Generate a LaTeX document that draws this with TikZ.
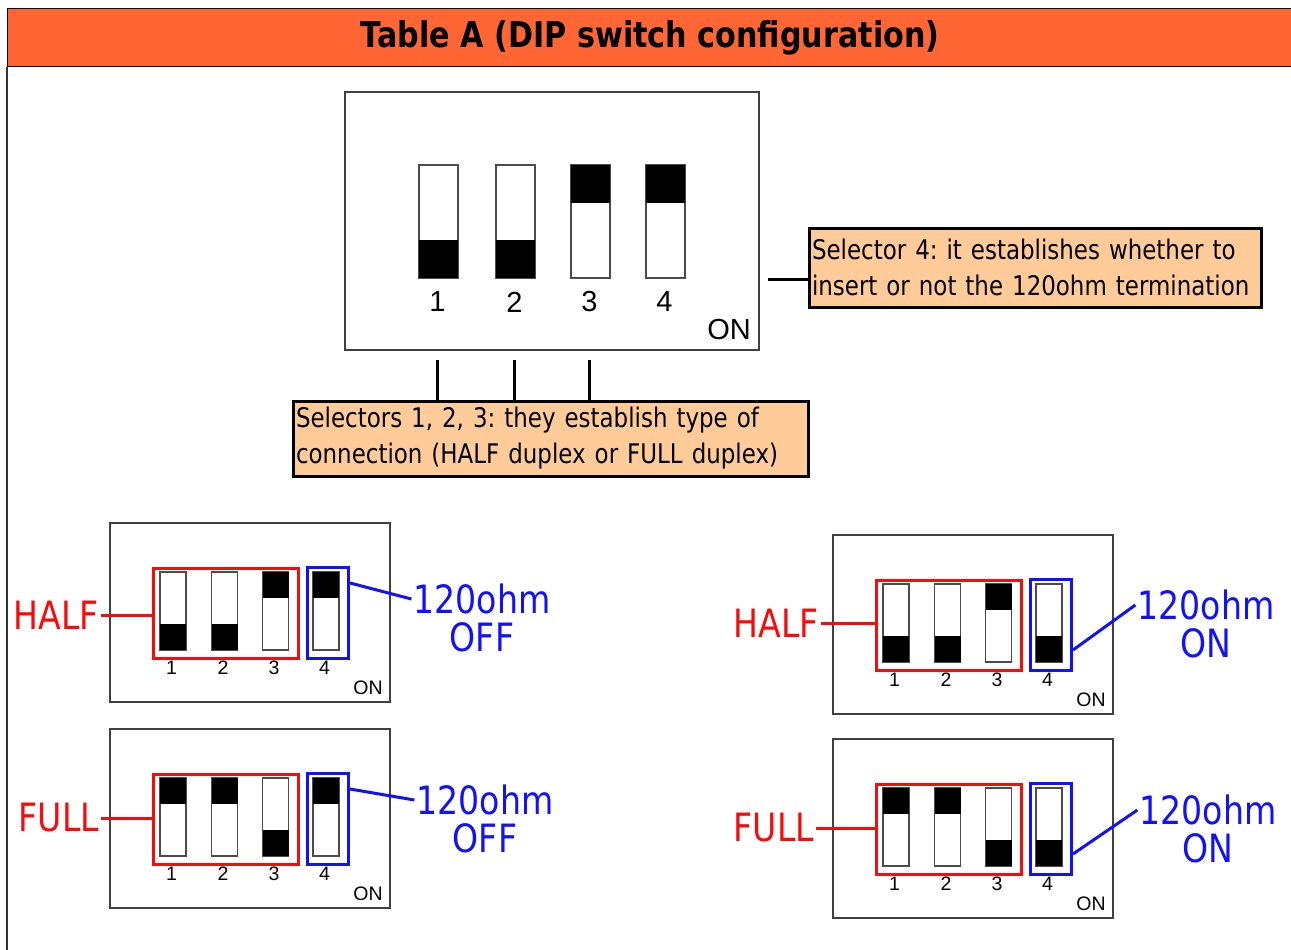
\documentclass[tikz,border=0pt]{standalone}
\usepackage{fontspec}
\setmainfont{DejaVu Sans}[FakeStretch=0.85]
\newfontfamily\keyfont{Liberation Sans}
\usetikzlibrary{positioning}
\definecolor{hdrorange}{RGB}{255,102,51}
\definecolor{notepeach}{RGB}{255,204,153}
\definecolor{selred}{RGB}{245,12,12}
\definecolor{termblue}{RGB}{18,18,250}
\frenchspacing
\hyphenpenalty=10000

\tikzset{
  header/.style={draw=black, line width=1.2pt, fill=hdrorange, inner sep=0pt,
    font=\bfseries\fontsize{35.5}{36}\selectfont},
  frame/.style={draw=black!80, line width=1.2pt},
  panelbox/.style={draw=black!75, line width=1.5pt, fill=white, inner sep=0pt},
  keybody/.style={draw=black!70, line width=1.2pt, fill=white},
  bignum/.style={font=\keyfont\fontsize{29}{29}\selectfont, inner sep=0pt},
  keynum/.style={font=\keyfont\fontsize{19.5}{20}\selectfont, inner sep=0pt},
  note/.style={draw=black, line width=3pt, fill=notepeach, align=left,
    inner xsep=3pt, inner ysep=2pt, font=\fontsize{27}{36}\selectfont},
  lead/.style={draw=black, line width=3pt},
  selgrp/.style={draw=selred, line width=3pt, inner sep=0pt},
  termgrp/.style={draw=termblue, line width=3pt, inner sep=0pt},
  redlbl/.style={text=selred, inner sep=2pt, font=\fontsize{39}{39}\selectfont},
  bluelbl/.style={text=termblue, inner sep=2pt, font=\fontsize{39}{39}\selectfont},
  redlead/.style={draw=selred, line width=3pt},
  bluelead/.style={draw=termblue, line width=3pt}
}

% one slide key: centre x, top y, width, height, 0 = up / 1 = down
\newcommand{\dipkey}[5]{%
  \draw[keybody] ({#1-#3/2},#2) rectangle ({#1+#3/2},{#2+#4});
  \fill ({#1-#3/2},{#2+#5*#4*2/3}) rectangle ({#1+#3/2},{#2+#5*#4*2/3+#4/3});
}

% small switch block with the 1-3 and 4 groups framed
\newcommand{\dippanel}[7]{%
  \begin{scope}[shift={(#2,#3)}]
    \node[panelbox, minimum width=280, minimum height=179, anchor=north west] (#1) at (0,0) {};
    \foreach \k/\cx/\s in {1/64/#4, 2/115.5/#5, 3/166.5/#6, 4/217/#7} {
      \dipkey{\cx}{50}{26}{78}{\s}
      \node[keynum] (#1-n\k) at (\cx-1.5,146) {\k};
    }
    \node[keynum] (#1-on) at (259,166) {ON};
    \node[selgrp, minimum width=145, minimum height=90, anchor=north west] (#1-sel) at (43,45) {};
    \node[termgrp, minimum width=41, minimum height=91, anchor=north west] (#1-term) at (197,44) {};
  \end{scope}
}

\begin{document}
\begin{tikzpicture}[x=1pt, y=-1pt]
\useasboundingbox[fill=white] (0,0) rectangle (1291,950);

% title bar and frame
\node[header, minimum width=1285, minimum height=58, anchor=north west] (title) at (7,8)
  {Table A (DIP switch configuration)};
\coordinate (frame-foot) at (7,960);
\draw[frame] (title.south west) -- (frame-foot);

% large switch
\node[panelbox, minimum width=414, minimum height=258] (tdip) at (552,221) {};
\foreach \k/\cx/\s in {1/438.5/1, 2/515.5/1, 3/590.5/0, 4/665.5/0} {
  \dipkey{\cx}{165}{39}{113}{\s}
  \node[bignum] (tdip-n\k) at (\cx-1,302) {\k};
}
\node[bignum] (tdip-on) at (729,330) {ON};

% notes
\node[note, text width=446, minimum height=79] (sel4) at (1035,267.5)
  {Selector 4: it establishes whether to\\insert or not the 120ohm termination};
\node[note, text width=509, minimum height=75] (sel123) at (550.5,438.5)
  {Selectors 1, 2, 3: they establish type of\\connection (HALF duplex or FULL duplex)};

\coordinate (tdip-side) at (768,279);
\draw[lead] (tdip-side) -- (tdip-side -| sel4.west);
\coordinate (tdip-foot) at (0,360);
\foreach \k in {1,2,3}
  \draw[lead] (tdip-n\k |- tdip-foot) -- (tdip-n\k |- sel123.north);

% the four settings
\dippanel{p1}{109}{522}{1}{1}{0}{0}
\dippanel{p2}{109}{728}{0}{0}{1}{0}
\dippanel{p3}{832}{534}{1}{1}{0}{1}
\dippanel{p4}{832}{738}{0}{0}{1}{1}

\node[redlbl] (half1) at (56,615) {HALF};
\node[redlbl] (full2) at (59,818) {FULL};
\node[redlbl] (half3) at (776,623) {HALF};
\node[redlbl] (full4) at (774,828) {FULL};
\draw[redlead] (half1.east) -- (half1.east -| p1-sel.west);
\draw[redlead] (full2.east) -- (full2.east -| p2-sel.west);
\draw[redlead] (half3.east) -- (half3.east -| p3-sel.west);
\draw[redlead] (full4.east) -- (full4.east -| p4-sel.west);

\node[bluelbl] (ohm1) at (482,599) {120ohm};
\node[bluelbl, below=4pt of ohm1] (off1) {OFF};
\node[bluelbl] (ohm2) at (485,800) {120ohm};
\node[bluelbl, below=4pt of ohm2] (off2) {OFF};
\node[bluelbl] (ohm3) at (1206,605) {120ohm};
\node[bluelbl, below=4pt of ohm3] (on3) {ON};
\node[bluelbl] (ohm4) at (1208,810) {120ohm};
\node[bluelbl, below=4pt of ohm4] (on4) {ON};
\draw[bluelead] ([yshift=-17pt]p1-term.north east) -- (ohm1.west);
\draw[bluelead] ([yshift=-17pt]p2-term.north east) -- (ohm2.west);
\draw[bluelead] ([yshift=22pt]p3-term.south east) -- (ohm3.west);
\draw[bluelead] ([yshift=22pt]p4-term.south east) -- (ohm4.west);
\end{tikzpicture}
\end{document}
